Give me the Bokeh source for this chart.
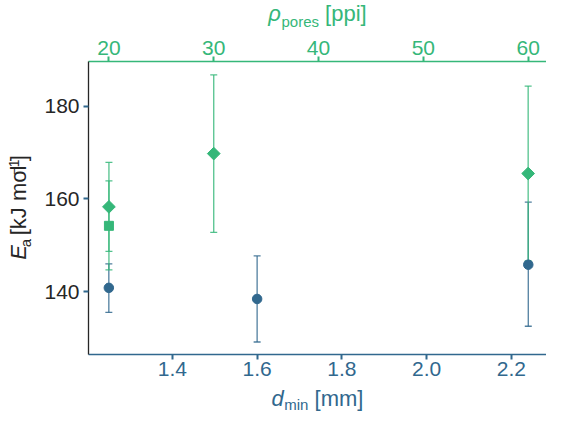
import math
from bokeh.plotting import figure
from bokeh.models import (Range1d, LinearAxis, Whisker, TeeHead, ColumnDataSource,
                          FixedTicker, PrintfTickFormatter)
from bokeh.layouts import column, row
from bokeh.core.properties import value
from bokeh.embed import file_html
from bokeh.resources import INLINE

# ---------------- data ----------------
d_min_blue = [1.25, 1.60, 2.24]
ea_blue = [140.8, 138.4, 145.8]
ea_blue_lo = [135.5, 129.1, 132.5]
ea_blue_hi = [146.0, 147.7, 159.3]

ppi_diamond = [20, 30, 60]
ea_diamond = [158.3, 169.8, 165.5]
ea_diamond_lo = [148.7, 152.8, 146.6]
ea_diamond_hi = [167.9, 186.8, 184.4]

ppi_square = [20]
ea_square = [154.2]
ea_square_lo = [144.7]
ea_square_hi = [163.9]

x_ticks_bottom = [1.4, 1.6, 1.8, 2.0, 2.2]
x_ticks_top = [20, 30, 40, 50, 60]
y_ticks = [140, 160, 180]

# ---------------- style ----------------
BLUE = "#31688e"
GREEN = "#35b779"
DARK = "#262626"
FONT = "Liberation Sans"

TOTAL_W, TOTAL_H = 546, 413
TT_H = 30          # top title strip
BT_H = 28          # bottom title strip
LT_W = 34          # left title strip
M_W = TOTAL_W - LT_W
M_H = TOTAL_H - TT_H - BT_H
LEFT, TOP, BOTTOM = 54, 31, 31
FW = M_W - LEFT
FH = M_H - TOP - BOTTOM

X0, X1 = 1.202, 2.283
T0, T1 = 18.05, 61.75
Y0, Y1 = 126.4, 189.7

p = figure(width=M_W, height=M_H, output_backend="svg", toolbar_location=None,
           x_range=Range1d(X0, X1), y_range=Range1d(Y0, Y1),
           min_border_left=LEFT, min_border_right=0, min_border_top=TOP,
           min_border_bottom=BOTTOM)
p.extra_x_ranges = {"top": Range1d(T0, T1)}
p.outline_line_color = None
p.xgrid.visible = False
p.ygrid.visible = False


def style_axis(ax, line_col, tick_col, lab_col):
    ax.axis_line_color = line_col
    ax.axis_line_width = 1.3
    ax.major_tick_line_color = tick_col
    ax.major_tick_line_width = 2
    ax.major_tick_out = 5
    ax.major_tick_in = 0
    ax.minor_tick_line_color = None
    ax.major_label_text_color = lab_col
    ax.major_label_text_font = FONT
    ax.major_label_text_font_size = "21px"
    ax.major_label_standoff = 2
    ax.axis_label = None


bx = p.xaxis[0]
bx.ticker = FixedTicker(ticks=x_ticks_bottom)
bx.formatter = PrintfTickFormatter(format="%.1f")
style_axis(bx, BLUE, BLUE, BLUE)

ly = p.yaxis[0]
ly.ticker = FixedTicker(ticks=y_ticks)
style_axis(ly, DARK, BLUE, DARK)
ly.major_label_standoff = 4

tx = LinearAxis(x_range_name="top", ticker=FixedTicker(ticks=x_ticks_top))
style_axis(tx, GREEN, GREEN, GREEN)
p.add_layout(tx, "above")

# ---------------- error bars ----------------
src_b = ColumnDataSource(dict(x=d_min_blue, y=ea_blue, lo=ea_blue_lo, hi=ea_blue_hi))
src_d = ColumnDataSource(dict(x=ppi_diamond, y=ea_diamond, lo=ea_diamond_lo, hi=ea_diamond_hi))
src_s = ColumnDataSource(dict(x=ppi_square, y=ea_square, lo=ea_square_lo, hi=ea_square_hi))


def whisk(src, col, rng):
    kw = dict(source=src, base="x", lower="lo", upper="hi", line_color=col,
              line_width=1.3, line_alpha=0.85, level="underlay",
              upper_head=TeeHead(size=7, line_color=col, line_width=1.3, line_alpha=0.85),
              lower_head=TeeHead(size=7, line_color=col, line_width=1.3, line_alpha=0.85))
    if rng:
        kw["x_range_name"] = rng
    p.add_layout(Whisker(**kw))


whisk(src_b, BLUE, None)
whisk(src_s, GREEN, "top")
whisk(src_d, GREEN, "top")

# ---------------- markers ----------------
p.scatter("x", "y", source=src_b, marker="circle", size=9.5, color=BLUE)
p.scatter("x", "y", source=src_s, marker="square", size=9, color=GREEN, x_range_name="top")
p.scatter("x", "y", source=src_d, marker="square", angle=math.pi / 4, size=9,
          color=GREEN, x_range_name="top")

# ---------------- axis titles (rich text in thin strips) ----------------
AW = {" ": 278, "[": 278, "]": 278, "a": 556, "d": 556, "e": 556, "i": 222, "J": 500,
      "k": 500, "l": 222, "m": 833, "n": 556, "o": 556, "p": 556, "r": 333, "s": 500,
      "E": 667, "\u2212": 584, "1": 556, "\u03c1": 576}
MID = 0.3465   # distance from alphabetic baseline to the "middle" anchor, in em


def tw(s, size):
    return sum(AW.get(c, 556) for c in s) / 1000.0 * size


def strip(w, h):
    f = figure(width=w, height=h, output_backend="svg", toolbar_location=None,
               x_range=Range1d(0, w), y_range=Range1d(0, h), min_border=0,
               x_axis_type=None, y_axis_type=None)
    f.outline_line_color = None
    f.xgrid.visible = False
    f.ygrid.visible = False
    return f


def horiz(f, runs, cx, base, color):
    total = sum(tw(t, s) + g for t, s, _, _, g in runs)
    x = cx - total / 2
    for t, s, st, sh, g in runs:
        x += g
        lead = len(t) - len(t.lstrip(" "))
        x += tw(" " * lead, s)
        t = t.lstrip(" ")
        f.text(x=[x], y=[base + sh + MID * s], text=[t], text_font=value(FONT),
               text_font_size=value(f"{s}px"), text_font_style=st, text_color=color,
               text_align="left", text_baseline="middle")
        x += tw(t, s)


def vert(f, runs, cy, base, color):
    total = sum(tw(t, s) + g for t, s, _, _, g in runs)
    y = cy - total / 2
    for t, s, st, sh, g in runs:
        y += g
        lead = len(t) - len(t.lstrip(" "))
        y += tw(" " * lead, s)
        t = t.lstrip(" ")
        f.text(x=[base - sh - MID * s], y=[y], text=[t], text_font=value(FONT),
               text_font_size=value(f"{s}px"), text_font_style=st, text_color=color,
               text_align="left", text_baseline="middle", angle=math.pi / 2)
        y += tw(t, s)


frame_cx = LT_W + LEFT + FW / 2

top_f = strip(TOTAL_W, TT_H)
horiz(top_f, [("\u03c1", 22, "italic", 0, 0), ("pores", 15, "normal", -5, 0.5),
              (" [ppi]", 22, "normal", 0, 0)], frame_cx, 9, GREEN)

bot_f = strip(TOTAL_W, BT_H)
horiz(bot_f, [("d", 22, "italic", 0, 0), ("min", 15, "normal", -4, 0.5),
              (" [mm]", 22, "normal", 0, 0)], frame_cx, 7.5, BLUE)

left_f = strip(LT_W, M_H)
vert(left_f, [("E", 22, "italic", 0, 0), ("a", 15, "normal", -4, 0.5),
              (" [kJ mol", 22, "normal", 0, 0), ("\u22121", 14, "normal", 8, 3),
              ("]", 22, "normal", 0, 1)],
     BOTTOM + FH / 2, 26, DARK)

layout = column(top_f, row(left_f, p), bot_f)

open("out.html", "w").write(file_html(layout, INLINE))
